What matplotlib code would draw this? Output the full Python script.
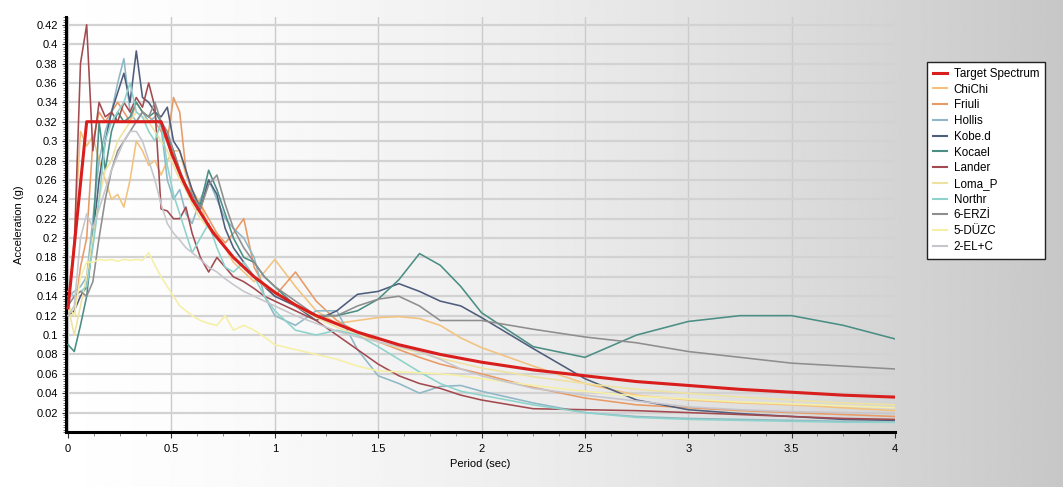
import numpy as np
import matplotlib
matplotlib.use("Agg")
import matplotlib.pyplot as plt
from matplotlib.ticker import MultipleLocator, FixedLocator

plt.rcParams['font.family'] = ['Liberation Sans', 'DejaVu Sans']

# Design (target) spectrum
target_T = [0.0, 0.09, 0.45, 0.50, 0.55, 0.60, 0.70, 0.80, 0.90, 1.00, 1.10, 1.20, 1.40,
            1.60, 1.80, 2.00, 2.25, 2.50, 2.75, 3.00, 3.25, 3.50, 3.75, 4.00]
target_Sa = [0.128, 0.320, 0.320, 0.288, 0.262, 0.240, 0.206, 0.180, 0.160, 0.144, 0.131,
             0.120, 0.103, 0.090, 0.080, 0.072, 0.064, 0.058, 0.052, 0.048, 0.044, 0.041,
             0.038, 0.036]

# Periods at which the record spectra are tabulated (sec)
periods = [0.00, 0.03, 0.06, 0.09, 0.12, 0.15, 0.18, 0.21, 0.24, 0.27, 0.30, 0.33,
           0.36, 0.39, 0.42, 0.45, 0.48, 0.51, 0.54, 0.57, 0.60, 0.64, 0.68, 0.72,
           0.76, 0.80, 0.85, 0.90, 0.95, 1.00, 1.10, 1.20, 1.30, 1.40, 1.50, 1.60,
           1.70, 1.80, 1.90, 2.00, 2.25, 2.50, 2.75, 3.00, 3.25, 3.50, 3.75, 4.00]

chichi = [0.130, 0.200, 0.310, 0.295, 0.305, 0.280, 0.260, 0.240, 0.245, 0.232, 0.260, 0.300,
          0.290, 0.275, 0.280, 0.265, 0.280, 0.290, 0.290, 0.265, 0.250, 0.235, 0.210, 0.205,
          0.190, 0.175, 0.165, 0.155, 0.165, 0.178, 0.150, 0.125, 0.112, 0.115, 0.118, 0.119,
          0.117, 0.110, 0.097, 0.087, 0.068, 0.050, 0.038, 0.033, 0.030, 0.028, 0.025, 0.022]
friuli = [0.130, 0.120, 0.170, 0.200, 0.300, 0.330, 0.320, 0.330, 0.340, 0.330, 0.320, 0.340,
          0.330, 0.325, 0.320, 0.310, 0.300, 0.345, 0.330, 0.270, 0.245, 0.235, 0.220, 0.205,
          0.195, 0.205, 0.220, 0.170, 0.150, 0.140, 0.165, 0.135, 0.115, 0.103, 0.093, 0.085,
          0.077, 0.070, 0.065, 0.060, 0.046, 0.035, 0.028, 0.025, 0.022, 0.020, 0.018, 0.016]
hollis = [0.140, 0.145, 0.150, 0.160, 0.220, 0.280, 0.310, 0.330, 0.360, 0.385, 0.330, 0.320,
          0.330, 0.320, 0.325, 0.315, 0.260, 0.240, 0.250, 0.225, 0.215, 0.240, 0.260, 0.240,
          0.220, 0.210, 0.200, 0.180, 0.140, 0.120, 0.110, 0.125, 0.125, 0.085, 0.058, 0.050,
          0.040, 0.047, 0.048, 0.042, 0.030, 0.020, 0.016, 0.014, 0.013, 0.012, 0.011, 0.010]
kobe = [0.120, 0.125, 0.140, 0.150, 0.200, 0.260, 0.300, 0.330, 0.350, 0.370, 0.340, 0.393,
        0.345, 0.340, 0.330, 0.325, 0.335, 0.300, 0.290, 0.270, 0.250, 0.230, 0.260, 0.245,
        0.210, 0.190, 0.175, 0.160, 0.150, 0.140, 0.130, 0.115, 0.125, 0.142, 0.145, 0.153,
        0.145, 0.135, 0.130, 0.118, 0.086, 0.055, 0.033, 0.023, 0.019, 0.016, 0.013, 0.012]
kocael = [0.090, 0.083, 0.110, 0.140, 0.200, 0.320, 0.270, 0.310, 0.330, 0.320, 0.325, 0.340,
          0.330, 0.325, 0.330, 0.320, 0.305, 0.290, 0.270, 0.250, 0.240, 0.235, 0.270, 0.250,
          0.225, 0.200, 0.180, 0.175, 0.160, 0.150, 0.130, 0.120, 0.120, 0.125, 0.137, 0.157,
          0.184, 0.172, 0.150, 0.123, 0.088, 0.077, 0.100, 0.114, 0.120, 0.120, 0.110, 0.096]
lander = [0.130, 0.190, 0.380, 0.420, 0.290, 0.340, 0.325, 0.330, 0.320, 0.340, 0.330, 0.345,
          0.335, 0.360, 0.335, 0.230, 0.228, 0.220, 0.220, 0.232, 0.205, 0.180, 0.165, 0.180,
          0.170, 0.160, 0.155, 0.148, 0.140, 0.135, 0.125, 0.115, 0.100, 0.085, 0.070, 0.058,
          0.050, 0.045, 0.038, 0.033, 0.024, 0.023, 0.022, 0.020, 0.018, 0.016, 0.014, 0.013]
loma_p = [0.130, 0.100, 0.130, 0.160, 0.200, 0.240, 0.270, 0.280, 0.300, 0.310, 0.320, 0.330,
          0.325, 0.320, 0.310, 0.300, 0.290, 0.275, 0.260, 0.250, 0.235, 0.220, 0.210, 0.200,
          0.190, 0.180, 0.170, 0.160, 0.150, 0.145, 0.130, 0.118, 0.108, 0.100, 0.093, 0.087,
          0.082, 0.076, 0.071, 0.066, 0.057, 0.050, 0.044, 0.040, 0.036, 0.033, 0.030, 0.028]
northr = [0.145, 0.140, 0.145, 0.150, 0.190, 0.240, 0.300, 0.320, 0.330, 0.340, 0.360, 0.330,
          0.325, 0.310, 0.300, 0.320, 0.275, 0.245, 0.225, 0.205, 0.185, 0.200, 0.215, 0.190,
          0.170, 0.165, 0.175, 0.160, 0.140, 0.125, 0.105, 0.100, 0.105, 0.100, 0.088, 0.075,
          0.062, 0.050, 0.042, 0.038, 0.028, 0.020, 0.015, 0.013, 0.012, 0.011, 0.010, 0.010]
erzi = [0.130, 0.140, 0.145, 0.140, 0.155, 0.200, 0.240, 0.270, 0.290, 0.300, 0.310, 0.320,
        0.330, 0.325, 0.340, 0.320, 0.310, 0.290, 0.270, 0.255, 0.245, 0.230, 0.255, 0.265,
        0.235, 0.210, 0.190, 0.175, 0.160, 0.150, 0.135, 0.120, 0.120, 0.130, 0.137, 0.140,
        0.130, 0.115, 0.115, 0.115, 0.106, 0.098, 0.092, 0.083, 0.077, 0.071, 0.068, 0.065]
duzc = [0.130, 0.120, 0.160, 0.175, 0.175, 0.178, 0.177, 0.178, 0.176, 0.178, 0.177, 0.178,
        0.177, 0.185, 0.172, 0.160, 0.150, 0.140, 0.130, 0.125, 0.120, 0.115, 0.112, 0.110,
        0.120, 0.105, 0.110, 0.105, 0.098, 0.090, 0.085, 0.080, 0.075, 0.068, 0.063, 0.062,
        0.061, 0.060, 0.058, 0.055, 0.048, 0.042, 0.037, 0.034, 0.031, 0.029, 0.027, 0.025]
el_c = [0.120, 0.130, 0.200, 0.225, 0.210, 0.230, 0.250, 0.270, 0.285, 0.300, 0.310, 0.310,
        0.300, 0.280, 0.260, 0.235, 0.215, 0.205, 0.198, 0.190, 0.185, 0.178, 0.170, 0.165,
        0.158, 0.152, 0.145, 0.140, 0.135, 0.130, 0.120, 0.112, 0.104, 0.098, 0.093, 0.088,
        0.083, 0.075, 0.065, 0.058, 0.045, 0.038, 0.032, 0.026, 0.023, 0.021, 0.020, 0.019]

record_names = ["ChiChi", "Friuli", "Hollis", "Kobe.d", "Kocael", "Lander",
                "Loma_P", "Northr", "6-ERZİ", "5-DÜZC", "2-EL+C"]
record_values = [chichi, friuli, hollis, kobe, kocael, lander,
                 loma_p, northr, erzi, duzc, el_c]
record_colors = ["#f2c27e", "#e89a66", "#8fb8c6", "#4e5d7c", "#4b8e84", "#a34a50",
                 "#efe2a0", "#8ed3cb", "#8e8e8e", "#f6efa6", "#c6c6cc"]

W, H = 1063, 487
fig = plt.figure(figsize=(W / 100, H / 100), dpi=100)

# Horizontal white-to-grey backdrop
bg = fig.add_axes([0, 0, 1, 1], zorder=-10)
xg = np.linspace(0, 1, 400)
shade = 1 - 0.22 * xg ** 1.6
bg.imshow(np.tile(shade, (10, 1)), cmap="gray", vmin=0, vmax=1,
          aspect="auto", extent=[0, 1, 0, 1], interpolation="bilinear")
bg.set_axis_off()

ax = fig.add_axes([66 / W, 1 - 432 / H, (895 - 66) / W, (432 - 17) / H])
ax.set_facecolor("none")

for name, vals, col in zip(record_names, record_values, record_colors):
    ax.plot(periods, vals, color=col, lw=1.15, label=name, zorder=3)
ax.plot(target_T, target_Sa, color="#d91e1e", lw=2.2, label="Target Spectrum", zorder=5)

ax.set_xlim(-0.01, 4.0)
ax.set_ylim(0.0, 0.428)

ax.xaxis.set_major_locator(FixedLocator([0, 0.5, 1, 1.5, 2, 2.5, 3, 3.5, 4]))
ax.set_xticklabels(["0", "0.5", "1", "1.5", "2", "2.5", "3", "3.5", "4"])
ax.xaxis.set_minor_locator(MultipleLocator(0.125))
yt = [round(0.02 * k, 2) for k in range(1, 22)]
ax.yaxis.set_major_locator(FixedLocator(yt))
ax.set_yticklabels([("%g" % v) for v in yt])
ax.yaxis.set_minor_locator(MultipleLocator(0.0025))

ax.tick_params(axis="y", which="major", labelsize=8, color="#333333",
               length=3, width=0.8, pad=3)
ax.tick_params(axis="x", which="major", labelsize=8, color="#333333",
               length=4, width=0.8, pad=5)
ax.tick_params(axis="y", which="minor", length=2.5, width=0.6, color="#555555")
ax.tick_params(axis="x", which="minor", length=3, width=0.6, color="#777777")

ax.grid(axis="y", which="major", color="#d2d2d2", lw=1.6, zorder=0)
ax.grid(axis="x", which="major", color="#cbcbcb", lw=1.0, zorder=0)
ax.set_axisbelow(True)

for s in ("top", "right"):
    ax.spines[s].set_visible(False)
ax.spines["left"].set_linewidth(2.2)
ax.spines["bottom"].set_linewidth(2.2)
ax.spines["left"].set_color("black")
ax.spines["bottom"].set_color("black")

ax.set_xlabel("Period (sec)", fontsize=8, labelpad=3)
ax.set_ylabel("Acceleration (g)", fontsize=8, labelpad=9)

handles, labels = ax.get_legend_handles_labels()
order = [len(handles) - 1] + list(range(len(handles) - 1))
leg = ax.legend([handles[i] for i in order], [labels[i] for i in order],
                loc="upper left", bbox_to_anchor=(927 / W, 1 - 62 / H),
                bbox_transform=fig.transFigure, borderaxespad=0,
                fontsize=8.4, frameon=True, fancybox=False, framealpha=1,
                edgecolor="#222222", handlelength=1.2, handletextpad=0.6,
                labelspacing=0.32, borderpad=0.5)
leg.get_frame().set_linewidth(1.0)
for ln in leg.get_lines():
    ln.set_linewidth(1.5)
leg.get_lines()[0].set_linewidth(2.2)

fig.savefig("out.png", dpi=100)
